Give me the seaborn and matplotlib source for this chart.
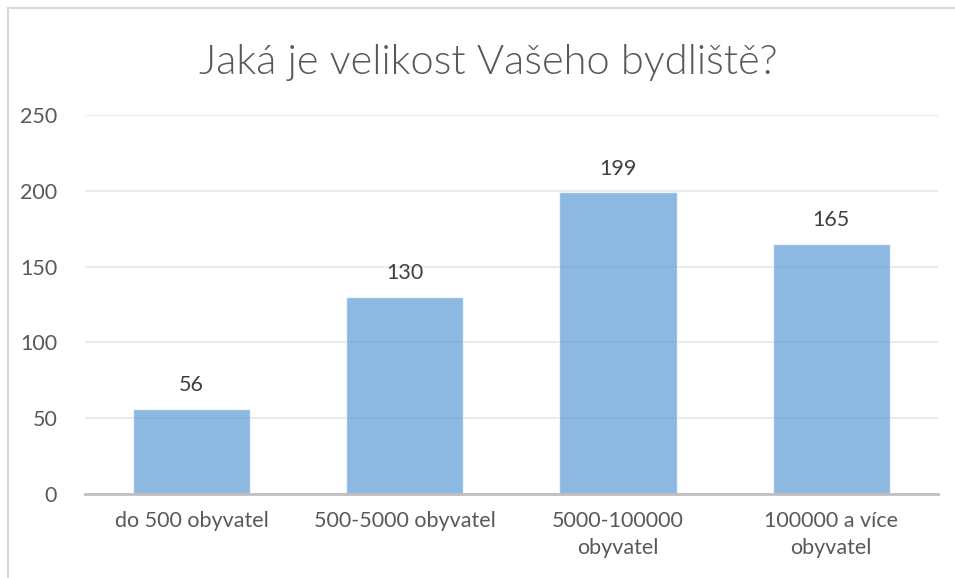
import matplotlib
matplotlib.use("Agg")
import matplotlib.pyplot as plt
import seaborn as sns
import pandas as pd
from matplotlib.patches import Rectangle

categories = ["do 500 obyvatel", "500-5000 obyvatel", "5000-100000\nobyvatel", "100000 a více\nobyvatel"]
counts = [56, 130, 199, 165]
yticks = [0, 50, 100, 150, 200, 250]
title = "Jaká je velikost Vašeho bydliště?"

df = pd.DataFrame({"kategorie": categories, "pocet": counts})

sns.set_style("white")
plt.rcParams["font.family"] = ["Lato", "DejaVu Sans"]

fig = plt.figure(figsize=(9.55, 5.78), dpi=100)
ax = fig.add_axes([0.089, 0.1453, 0.893, 0.6557])

ax.set_axisbelow(True)
ax.grid(True, axis="y", color="#e6e6e6", linewidth=1.2)
sns.barplot(data=df, x="kategorie", y="pocet", color="#5B9BD5", alpha=0.7,
            width=0.55, saturation=1, ax=ax, zorder=3)

for p, v in zip(ax.patches, counts):
    ax.text(p.get_x() + p.get_width() / 2, v + 9, str(v), ha="center", va="bottom",
            fontsize=15.5, color="#404040")

ax.set_ylim(0, 250)
ax.set_yticks(yticks)
ax.set_xlim(-0.5, 3.5)
ax.set_xlabel("")
ax.set_ylabel("")
ax.tick_params(axis="both", length=0, labelsize=15.5, labelcolor="#595959")
ax.tick_params(axis="y", pad=20)
ax.tick_params(axis="x", pad=12)
for lbl in ax.get_xticklabels():
    lbl.set_linespacing(1.45)
for s in ["top", "right", "left"]:
    ax.spines[s].set_visible(False)
ax.spines["bottom"].set_color("#bfbfbf")
ax.spines["bottom"].set_linewidth(2)
ax.spines["bottom"].set_zorder(4)

fig.text(0.511, 0.892, title, ha="center", va="center", fontsize=30,
         color="#595959", fontweight=300)

fig.patches.append(Rectangle((8 / 955, -0.01), 1.0, 1 - 8 / 578 + 0.01, transform=fig.transFigure,
                             fill=False, edgecolor="#d9d9d9", linewidth=1.5))

fig.savefig("out.png", dpi=100)
